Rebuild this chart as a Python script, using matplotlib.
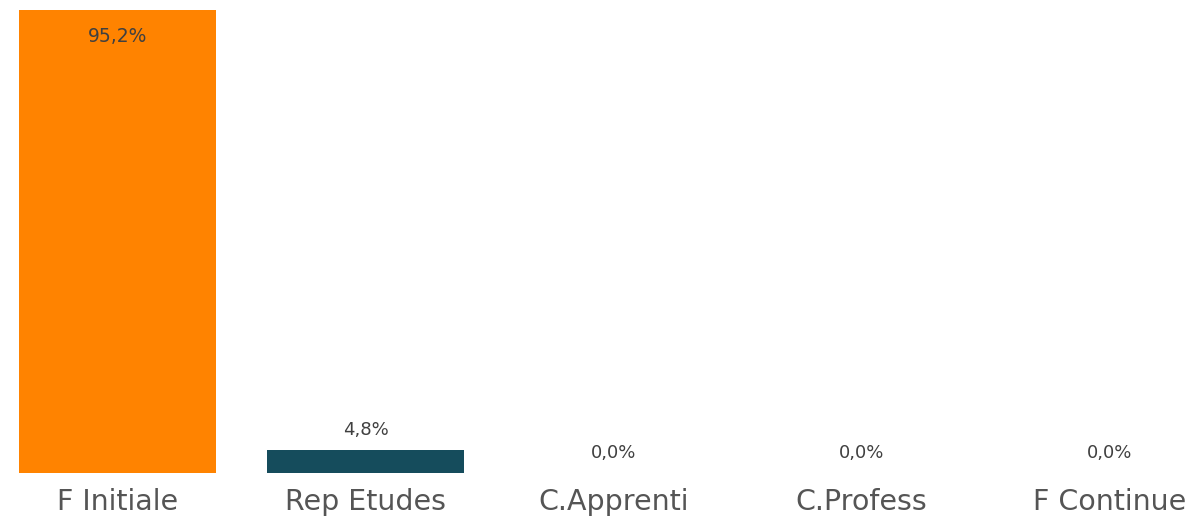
"""
Répartition par type de formation
"""
import matplotlib.pyplot as plt

categories = ['F Initiale', 'Rep Etudes', 'C.Apprenti', 'C.Profess', 'F Continue']
values = [95.2, 4.8, 0.0, 0.0, 0.0]
colors = ['#FF8300', '#154C5C', '#154C5C', '#154C5C', '#154C5C']

plt.rcParams['font.family'] = ['DejaVu Sans']

fig = plt.figure(figsize=(11.96, 5.21), dpi=100)
ax = fig.add_axes([0, 48 / 521, 1, 463 / 521])

x = list(range(len(categories)))
bars = ax.bar(x, values, width=0.794, color=colors)

ax.set_xlim((0 - 117.5) / 248, (1196 - 117.5) / 248)
ax.set_ylim(0, 95.2)

for i, (b, v) in enumerate(zip(bars, values)):
    label = f'{v:.1f}%'.replace('.', ',')
    if i == 0:
        ax.annotate(label, (b.get_x() + b.get_width() / 2, v), xytext=(0, -12),
                    textcoords='offset points', ha='center', va='top',
                    fontsize=13.5, color='#404040')
    else:
        ax.annotate(label, (b.get_x() + b.get_width() / 2, v), xytext=(0, 8),
                    textcoords='offset points', ha='center', va='bottom',
                    fontsize=13, color='#404040')

ax.set_xticks(x)
ax.set_xticklabels(categories, fontsize=20.5, color='#555555')
ax.tick_params(axis='x', length=0, pad=11)
ax.set_yticks([])
for s in ax.spines.values():
    s.set_visible(False)

plt.savefig('out.png', dpi=100)
plt.close()
